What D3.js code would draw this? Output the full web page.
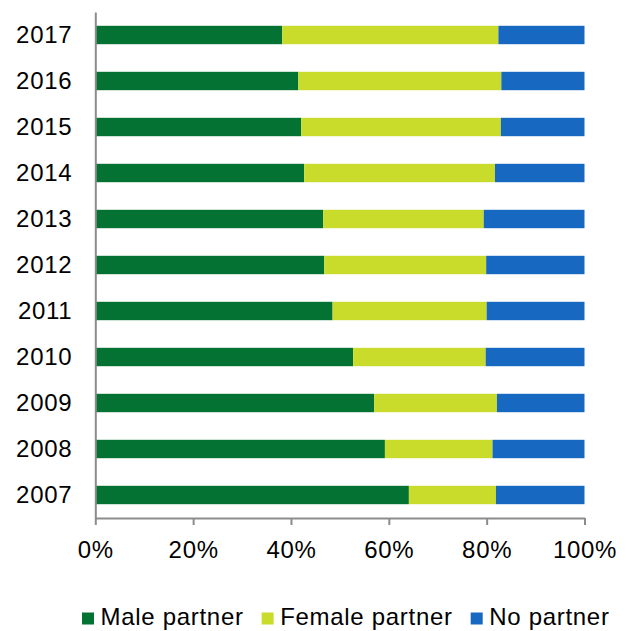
<!DOCTYPE html>
<html><head><meta charset="utf-8">
<script src="https://cdn.jsdelivr.net/npm/d3@7"></script>
<style>body{margin:0;background:#fff}svg{display:block}text{font-family:"Liberation Sans",Arial,Helvetica,sans-serif;fill:#000;letter-spacing:0.7px}</style>
</head><body>
<script>
const years = ["2017","2016","2015","2014","2013","2012","2011","2010","2009","2008","2007"];
const malePartner   = [38.2, 41.5, 42.1, 42.7, 46.6, 46.8, 48.5, 52.7, 57.0, 59.2, 64.1];
const femalePartner = [44.2, 41.5, 40.8, 39.0, 32.8, 33.1, 31.5, 27.1, 25.1, 22.0, 17.8];
const noPartner     = [17.6, 17.0, 17.1, 18.3, 20.6, 20.1, 20.0, 20.2, 17.9, 18.8, 18.1];
const seriesNames = ["Male partner","Female partner","No partner"];
const seriesColors = ["#037233","#cadc2b","#1768c0"];
const xTicks = [0,20,40,60,80,100];

(function(){
const W = 630, H = 631;
const mLeft = 95.3, mRight = 584.5, mTop = 12, mBottom = 518;

const svg = d3.select("body").append("svg").attr("width", W).attr("height", H);

const rows = years.map((y,i)=>({year:y, "Male partner":malePartner[i], "Female partner":femalePartner[i], "No partner":noPartner[i]}));
const stack = d3.stack().keys(seriesNames)(rows);

const x = d3.scaleLinear().domain([0,100]).range([mLeft,mRight]);
const y = d3.scaleBand().domain(years).range([mTop,mBottom]).paddingInner(0.6).paddingOuter(0.3);
const color = d3.scaleOrdinal().domain(seriesNames).range(seriesColors);

svg.append("g").selectAll("g").data(stack).join("g")
  .attr("fill", d=>color(d.key))
  .selectAll("rect").data(d=>d).join("rect")
  .attr("x", d=>x(d[0])).attr("width", d=>x(d[1])-x(d[0]))
  .attr("y", d=>y(d.data.year)).attr("height", y.bandwidth());

// x axis
const xa = svg.append("g").attr("transform",`translate(0,${mBottom})`)
  .call(d3.axisBottom(x).tickValues(xTicks).tickFormat(d=>d+"%").tickSize(7).tickSizeOuter(0));
xa.select(".domain").attr("stroke","#8c8c8c").attr("stroke-width",2);
xa.selectAll(".tick line").attr("stroke","#8c8c8c").attr("stroke-width",2);
xa.selectAll(".tick text").attr("font-size",24).attr("dy",0).attr("y",39.5)
  .style("font-family",'"Liberation Sans",Arial,sans-serif').attr("fill","#000");

// y axis
const ya = svg.append("g").attr("transform",`translate(${mLeft},0)`)
  .call(d3.axisLeft(y).tickSize(0).tickPadding(23));
ya.select(".domain").attr("stroke","#8c8c8c").attr("stroke-width",2);
ya.selectAll(".tick text").attr("font-size",24).attr("dy","0.35em")
  .style("font-family",'"Liberation Sans",Arial,sans-serif').attr("fill","#000");

// legend
const lg = svg.append("g").attr("transform","translate(82,624.5)");
let cx = 0;
seriesNames.forEach((name,i)=>{
  const g = lg.append("g").attr("transform",`translate(${cx},0)`);
  g.append("rect").attr("x",0).attr("y",-12).attr("width",12).attr("height",12).attr("fill",seriesColors[i]);
  const t = g.append("text").attr("x",18.5).attr("y",0).attr("font-size",24).text(name);
  cx += 18.5 + t.node().getComputedTextLength() + 18;
});
})();
</script>
</body></html>
